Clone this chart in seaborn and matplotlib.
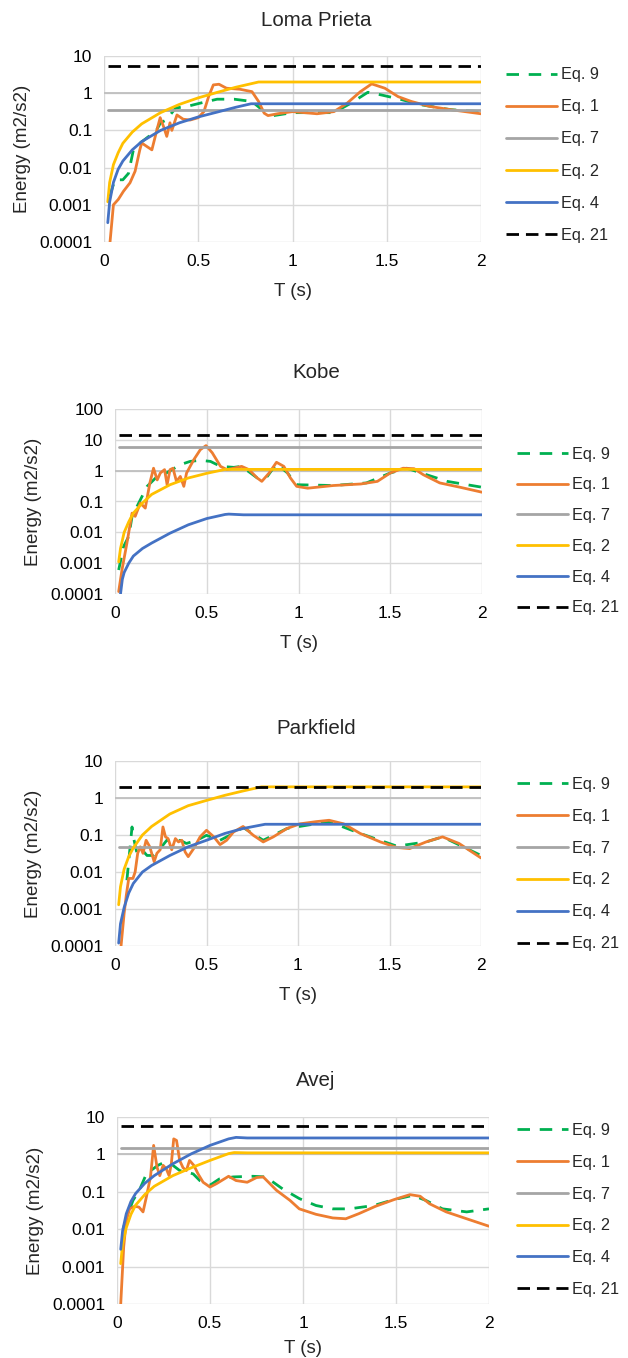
import numpy as np
import matplotlib
matplotlib.use("Agg")
import matplotlib.pyplot as plt
from matplotlib.ticker import FixedLocator, FuncFormatter
import seaborn as sns

sns.set_style("white")
plt.rcParams['font.family'] = ['Liberation Sans', 'DejaVu Sans']

W, H = 628, 1358

titles = ["Loma Prieta", "Kobe", "Parkfield", "Avej"]
labels = ["Eq. 9", "Eq. 1", "Eq. 7", "Eq. 2", "Eq. 4", "Eq. 21"]

# ---- Loma Prieta ----
lp_t9 = [0.03, 0.058, 0.1, 0.13, 0.156, 0.19, 0.236, 0.27, 0.3, 0.33, 0.38, 0.44, 0.51, 0.6, 0.69,
         0.785, 0.85, 0.9, 1.0, 1.22, 1.31, 1.4, 1.47, 1.57, 1.68, 1.84, 2.0]
lp_e9 = [0.0017, 0.0047, 0.0047, 0.007, 0.03, 0.045, 0.068, 0.085, 0.16, 0.19, 0.4, 0.44, 0.54, 0.69, 0.69,
         0.6, 0.32, 0.25, 0.3, 0.3, 0.54, 1.06, 0.9, 0.69, 0.49, 0.36, 0.32]
lp_t1 = [0.032, 0.05, 0.076, 0.103, 0.138, 0.165, 0.19, 0.2, 0.227, 0.254, 0.28, 0.298, 0.316, 0.333,
         0.35, 0.36, 0.387, 0.42, 0.457, 0.5, 0.53, 0.555, 0.58, 0.61, 0.65, 0.72, 0.785, 0.82, 0.85,
         0.87, 0.92, 1.0, 1.13, 1.22, 1.29, 1.36, 1.42, 1.49, 1.56, 1.63, 1.73, 1.84, 2.0]
lp_e1 = [0.0001, 0.001, 0.0014, 0.0023, 0.0039, 0.008, 0.03, 0.046, 0.037, 0.03, 0.1, 0.22, 0.127, 0.069,
         0.16, 0.1, 0.26, 0.2, 0.19, 0.22, 0.32, 0.81, 1.67, 1.74, 1.36, 1.28, 1.1, 0.6, 0.29,
         0.25, 0.28, 0.32, 0.28, 0.32, 0.54, 1.1, 1.78, 1.36, 0.81, 0.6, 0.44, 0.36, 0.28]
lp_e7 = 0.355
lp_t2 = [0.02, 0.03, 0.05, 0.075, 0.1, 0.15, 0.2, 0.3, 0.4, 0.5, 0.6, 0.7, 0.82, 2.0]
lp_e2 = [0.0012, 0.004, 0.012, 0.025, 0.045, 0.09, 0.15, 0.3, 0.5, 0.75, 1.05, 1.45, 2.0, 2.0]
lp_t4 = [0.02, 0.03, 0.05, 0.075, 0.1, 0.15, 0.2, 0.3, 0.4, 0.5, 0.6, 0.7, 0.78, 2.0]
lp_e4 = [0.00033, 0.0012, 0.004, 0.009, 0.015, 0.03, 0.05, 0.1, 0.16, 0.23, 0.31, 0.42, 0.52, 0.52]
lp_e21 = 5.5

# ---- Kobe ----
kb_t9 = [0.02, 0.047, 0.075, 0.093, 0.12, 0.175, 0.23, 0.28, 0.356, 0.41, 0.465, 0.52, 0.575, 0.647,
         0.69, 0.775, 0.83, 0.88, 0.94, 0.99, 1.19, 1.37, 1.5, 1.59, 1.68, 1.81, 2.0]
kb_e9 = [0.0006, 0.0035, 0.0074, 0.033, 0.069, 0.31, 0.65, 0.84, 1.57, 2.0, 2.17, 2.0, 1.38, 1.28,
         1.38, 0.58, 0.65, 1.69, 0.84, 0.35, 0.33, 0.4, 0.84, 1.2, 0.8, 0.45, 0.29]
kb_t1 = [0.02, 0.038, 0.065, 0.093, 0.11, 0.138, 0.165, 0.19, 0.21, 0.23, 0.247, 0.27, 0.284, 0.3,
         0.316, 0.335, 0.356, 0.375, 0.39, 0.43, 0.465, 0.496, 0.53, 0.575, 0.61, 0.647, 0.69, 0.73,
         0.775, 0.8, 0.84, 0.88, 0.92, 0.956, 0.99, 1.05, 1.19, 1.34, 1.43, 1.5, 1.57, 1.63, 1.68,
         1.77, 1.88, 2.0]
kb_e1 = [0.00012, 0.0006, 0.0045, 0.042, 0.033, 0.089, 0.061, 0.4, 1.2, 0.5, 0.84, 1.08, 0.35, 1.08,
         1.2, 0.45, 0.65, 0.31, 0.84, 2.3, 4.8, 6.5, 3.8, 1.38, 1.08, 1.2, 1.38, 1.08,
         0.58, 0.45, 0.84, 1.87, 1.38, 0.58, 0.31, 0.27, 0.33, 0.37, 0.45, 0.84, 1.2, 1.16, 0.74,
         0.4, 0.29, 0.2]
kb_e7 = 5.7
kb_t2 = [0.02, 0.03, 0.05, 0.075, 0.1, 0.15, 0.2, 0.3, 0.4, 0.5, 0.6, 2.0]
kb_e2 = [0.0011, 0.003, 0.01, 0.022, 0.042, 0.09, 0.17, 0.35, 0.58, 0.82, 1.1, 1.1]
kb_t4 = [0.02, 0.03, 0.04, 0.05, 0.075, 0.1, 0.15, 0.2, 0.3, 0.4, 0.5, 0.6, 0.62, 0.7, 2.0]
kb_e4 = [0.00005, 0.0001, 0.0003, 0.0005, 0.001, 0.0017, 0.003, 0.0045, 0.0094, 0.0176, 0.028,
         0.038, 0.039, 0.037, 0.037]
kb_e21 = 14.4

# ---- Parkfield ----
pf_t9 = [0.065, 0.093, 0.1, 0.12, 0.147, 0.175, 0.21, 0.247, 0.283, 0.32, 0.356, 0.39, 0.447, 0.5,
         0.574, 0.647, 0.7, 0.81, 0.94, 1.17, 1.34, 1.54, 1.7, 1.79, 2.0]
pf_e9 = [0.006, 0.165, 0.09, 0.032, 0.04, 0.028, 0.028, 0.043, 0.072, 0.065, 0.072, 0.059, 0.072, 0.098,
         0.072, 0.11, 0.16, 0.072, 0.15, 0.23, 0.11, 0.05, 0.065, 0.089, 0.028]
pf_t1 = [0.033, 0.05, 0.062, 0.075, 0.098, 0.11, 0.124, 0.138, 0.153, 0.17, 0.19, 0.214, 0.229, 0.247,
         0.262, 0.276, 0.29, 0.31, 0.33, 0.347, 0.365, 0.383, 0.4, 0.43, 0.465, 0.5, 0.54, 0.574,
         0.61, 0.647, 0.7, 0.756, 0.81, 0.865, 0.94, 1.01, 1.1, 1.17, 1.25, 1.34, 1.45, 1.54, 1.61,
         1.7, 1.79, 1.88, 2.0]
pf_e1 = [0.0001, 0.00077, 0.0024, 0.0067, 0.0067, 0.01, 0.032, 0.048, 0.032, 0.072, 0.048, 0.019, 0.032,
         0.04, 0.165, 0.089, 0.08, 0.04, 0.08, 0.065, 0.072, 0.035, 0.026, 0.043, 0.089, 0.134, 0.089,
         0.055, 0.072, 0.12, 0.17, 0.098, 0.065, 0.089, 0.15, 0.2, 0.23, 0.25, 0.2, 0.11, 0.065,
         0.046, 0.043, 0.065, 0.089, 0.059, 0.024]
pf_e7 = 0.048
pf_t2 = [0.02, 0.03, 0.05, 0.075, 0.1, 0.15, 0.2, 0.3, 0.4, 0.5, 0.6, 0.7, 0.8, 2.0]
pf_e2 = [0.0013, 0.004, 0.012, 0.026, 0.045, 0.1, 0.17, 0.37, 0.62, 0.86, 1.18, 1.55, 2.0, 2.0]
pf_t4 = [0.02, 0.03, 0.05, 0.075, 0.1, 0.15, 0.2, 0.3, 0.4, 0.5, 0.6, 0.7, 0.82, 2.0]
pf_e4 = [0.00012, 0.0004, 0.0011, 0.0027, 0.0049, 0.01, 0.015, 0.028, 0.048, 0.072, 0.11, 0.15,
         0.195, 0.195]
pf_e21 = 2.0

# ---- Avej ----
av_t9 = [0.032, 0.06, 0.086, 0.12, 0.158, 0.194, 0.22, 0.256, 0.29, 0.337, 0.373, 0.41, 0.445, 0.5,
         0.55, 0.625, 0.73, 0.8, 0.89, 0.98, 1.07, 1.16, 1.25, 1.38, 1.49, 1.59, 1.66, 1.75, 1.88, 2.0]
av_e9 = [0.01, 0.026, 0.059, 0.11, 0.3, 0.41, 0.51, 0.62, 0.56, 0.37, 0.34, 0.3, 0.2, 0.15,
         0.22, 0.25, 0.26, 0.25, 0.12, 0.066, 0.043, 0.035, 0.035, 0.043, 0.062, 0.08, 0.059, 0.035,
         0.029, 0.035]
av_t1 = [0.02, 0.036, 0.05, 0.068, 0.095, 0.118, 0.14, 0.158, 0.18, 0.197, 0.215, 0.23, 0.248, 0.265,
         0.28, 0.292, 0.305, 0.32, 0.337, 0.355, 0.373, 0.39, 0.413, 0.436, 0.463, 0.5, 0.535, 0.6,
         0.64, 0.7, 0.75, 0.786, 0.857, 0.93, 0.98, 1.07, 1.16, 1.23, 1.3, 1.39, 1.49, 1.575, 1.63,
         1.68, 1.77, 1.88, 2.0]
av_e1 = [0.0001, 0.0034, 0.017, 0.035, 0.041, 0.039, 0.029, 0.073, 0.25, 1.74, 0.46, 0.27, 0.51, 0.41,
         0.27, 0.56, 2.6, 2.36, 0.69, 0.44, 0.37, 0.69, 0.51, 0.3, 0.18, 0.134, 0.165, 0.26,
         0.2, 0.18, 0.24, 0.25, 0.11, 0.059, 0.035, 0.025, 0.02, 0.019, 0.026, 0.041, 0.062, 0.084,
         0.076, 0.048, 0.029, 0.019, 0.012]
av_e7 = 1.5
av_t2 = [0.02, 0.03, 0.05, 0.075, 0.1, 0.15, 0.2, 0.3, 0.4, 0.5, 0.6, 0.63, 0.7, 2.0]
av_e2 = [0.0012, 0.004, 0.011, 0.025, 0.044, 0.085, 0.14, 0.27, 0.44, 0.69, 1.05, 1.12, 1.1, 1.1]
av_t4 = [0.02, 0.03, 0.05, 0.075, 0.1, 0.15, 0.2, 0.3, 0.4, 0.5, 0.6, 0.64, 0.7, 2.0]
av_e4 = [0.0029, 0.009, 0.026, 0.055, 0.09, 0.17, 0.27, 0.56, 1.04, 1.74, 2.6, 2.85, 2.75, 2.75]
av_e21 = 5.7

yticks_small = [0.0001, 0.001, 0.01, 0.1, 1, 10]
yticks_big = [0.0001, 0.001, 0.01, 0.1, 1, 10, 100]
xticks = [0, 0.5, 1, 1.5, 2]

panels = [
    (lp_t9, lp_e9, lp_t1, lp_e1, lp_e7, lp_t2, lp_e2, lp_t4, lp_e4, lp_e21, yticks_small),
    (kb_t9, kb_e9, kb_t1, kb_e1, kb_e7, kb_t2, kb_e2, kb_t4, kb_e4, kb_e21, yticks_big),
    (pf_t9, pf_e9, pf_t1, pf_e1, pf_e7, pf_t2, pf_e2, pf_t4, pf_e4, pf_e21, yticks_small),
    (av_t9, av_e9, av_t1, av_e1, av_e7, av_t2, av_e2, av_t4, av_e4, av_e21, yticks_small),
]

# pixel boxes: left, right, top, bottom ; title y ; legend x, legend center y, label spacing
boxes = [(104, 481, 56, 242), (115, 482, 409, 594), (115, 481, 761, 946), (117, 489, 1117, 1304)]
title_y = [20, 373, 729, 1080]
leg_pos = [(506, 155, 1.05), (517, 531, 0.97), (517, 864, 1.04), (517, 1210, 1.03)]
xlabel_pad = [10, 10, 10, 6]

c_green, c_orange, c_gray = '#00B050', '#ED7D31', '#A5A5A5'
c_yellow, c_blue, c_black = '#FFC000', '#4472C4', '#000000'
grid_c = '#D9D9D9'
lw = 2.0

fig = plt.figure(figsize=(W / 100, H / 100), dpi=100)

for i, p in enumerate(panels):
    t9, e9, t1, e1, e7, t2, e2, t4, e4, e21, yt = p
    l, r, t, b = boxes[i]
    ax = fig.add_axes([l / W, 1 - b / H, (r - l) / W, (b - t) / H])

    ends = [0.02, 2.0]
    sns.lineplot(x=t9, y=e9, ax=ax, color=c_green, lw=lw, linestyle=(0, (4.5, 3.5)),
                 label=labels[0], estimator=None, sort=False)
    sns.lineplot(x=t1, y=e1, ax=ax, color=c_orange, lw=lw, label=labels[1], estimator=None, sort=False)
    sns.lineplot(x=ends, y=[e7, e7], ax=ax, color=c_gray, lw=lw, label=labels[2], estimator=None)
    sns.lineplot(x=t2, y=e2, ax=ax, color=c_yellow, lw=lw, label=labels[3], estimator=None, sort=False)
    sns.lineplot(x=t4, y=e4, ax=ax, color=c_blue, lw=lw, label=labels[4], estimator=None, sort=False)
    sns.lineplot(x=ends, y=[e21, e21], ax=ax, color=c_black, lw=lw, linestyle=(0, (4.5, 2.5)),
                 label=labels[5], estimator=None)

    ax.set_yscale('log')
    ax.set_xlim(0, 2)
    ax.set_ylim(yt[0], yt[-1])
    ax.yaxis.set_major_locator(FixedLocator(yt))
    ax.yaxis.set_minor_locator(FixedLocator([]))
    ax.yaxis.set_major_formatter(FuncFormatter(lambda v, pos: '{:g}'.format(v)))
    ax.xaxis.set_major_locator(FixedLocator(xticks))
    ax.xaxis.set_major_formatter(FuncFormatter(lambda v, pos: '{:g}'.format(v)))
    ax.grid(True, color=grid_c, lw=1.0, zorder=0)
    ax.set_axisbelow(True)
    ax.axhline(1, color='#BFBFBF', lw=1.3, zorder=1.5)
    for s in ax.spines.values():
        s.set_visible(False)
    ax.tick_params(length=0, labelsize=12.5, labelcolor='#000000', pad=8.5)
    ax.tick_params(axis='x', pad=9)
    ax.set_xlabel('T (s)', fontsize=13.5, labelpad=xlabel_pad[i])
    ax.set_ylabel('Energy (m2/s2)', fontsize=13.5, labelpad=6)

    fig.text(316 / W, 1 - title_y[i] / H, titles[i], fontsize=14.8, ha='center', va='center')

    lx, ly, ls = leg_pos[i]
    h, lab = ax.get_legend_handles_labels()
    ax.legend(h, lab, loc='center left', bbox_to_anchor=(lx / W, 1 - ly / H),
              bbox_transform=fig.transFigure, frameon=False, fontsize=11.7,
              handlelength=3.15, handletextpad=0.25, labelspacing=ls,
              borderpad=0, borderaxespad=0)

fig.savefig('out.png', dpi=100)
